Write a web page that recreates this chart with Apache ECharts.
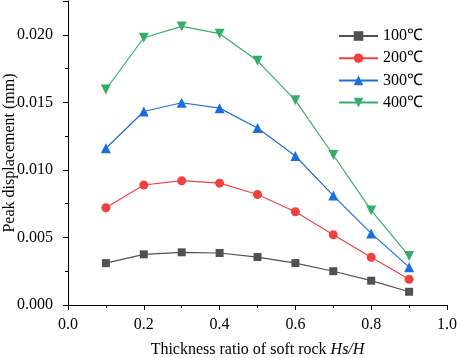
<!DOCTYPE html>
<html>
<head>
<meta charset="utf-8">
<script src="https://cdn.jsdelivr.net/npm/echarts@6/dist/echarts.min.js"></script>
<style>html,body{margin:0;padding:0;background:#fff}#c{width:457px;height:358px}</style>
</head>
<body>
<div id="c"></div>
<script>
const xValues = [0.1, 0.2, 0.3, 0.4, 0.5, 0.6, 0.7, 0.8, 0.9];
const seriesNames = ['100\u2103', '200\u2103', '300\u2103', '400\u2103'];
const s100 = [0.0031, 0.00375, 0.0039, 0.00385, 0.00355, 0.0031, 0.0025, 0.0018, 0.00098];
const s200 = [0.0072, 0.00888, 0.0092, 0.00902, 0.00818, 0.0069, 0.0052, 0.00353, 0.0019];
const s300 = [0.0116, 0.01432, 0.01497, 0.01457, 0.0131, 0.01103, 0.0081, 0.0053, 0.0028];
const s400 = [0.01595, 0.01978, 0.02062, 0.02008, 0.01807, 0.01515, 0.0111, 0.007, 0.00362];
const allSeries = [s100, s200, s300, s400];
const colors = ['#515151', '#F14040', '#1A6FDF', '#37AD6B'];
const symbols = ['rect', 'circle', 'triangle', 'path://M0,0 L10,0 L5,8.66 Z'];
const symbolSizes = [8, 9, 10, 10];

const font = 'Liberation Serif, Times New Roman, serif';
const chart = echarts.init(document.getElementById('c'));
chart.setOption({
  animation: false,
  textStyle: { fontFamily: font },
  grid: { left: 68, right: 10, top: 1, bottom: 53, containLabel: false, outerBoundsMode: 'none' },
  legend: {
    orient: 'vertical', left: 338, top: 28, padding: 0,
    itemWidth: 39, itemHeight: 12, itemGap: 6.2,
    textStyle: { fontFamily: font, fontSize: 16, color: '#000' },
    data: seriesNames
  },
  xAxis: {
    type: 'value', min: 0, max: 1, interval: 0.2,
    name: '{n|Thickness ratio of soft rock }{i|Hs/H}',
    nameLocation: 'middle', nameGap: 37, nameMoveOverlap: false,
    nameTextStyle: { rich: { n: { fontFamily: font, fontSize: 16, color: '#000' }, i: { fontFamily: font, fontSize: 16, fontStyle: 'italic', color: '#000' } } },
    axisLine: { lineStyle: { color: '#000', width: 1 } },
    axisTick: { inside: false, length: 5, lineStyle: { color: '#000' } },
    minorTick: { show: true, splitNumber: 2, length: 3, lineStyle: { color: '#000' } },
    splitLine: { show: false },
    axisLabel: { fontFamily: font, fontSize: 16, color: '#000', margin: 12, formatter: v => v.toFixed(1) }
  },
  yAxis: {
    type: 'value', min: 0, max: 0.0225, interval: 0.005,
    name: 'Peak displacement (mm)',
    nameLocation: 'middle', nameGap: 50, nameMoveOverlap: false,
    nameTextStyle: { fontFamily: font, fontSize: 16, color: '#000' },
    axisLine: { show: true, lineStyle: { color: '#000', width: 1 } },
    axisTick: { show: true, inside: false, length: 5, lineStyle: { color: '#000' } },
    minorTick: { show: true, splitNumber: 2, length: 3, lineStyle: { color: '#000' } },
    splitLine: { show: false },
    axisLabel: { fontFamily: font, fontSize: 16, color: '#000', margin: 15, formatter: v => v > 0.021 ? '' : v.toFixed(3) }
  },
  series: allSeries.map((d, i) => ({
    name: seriesNames[i],
    type: 'line',
    data: xValues.map((x, j) => [x, d[j]]),
    symbol: symbols[i],
    symbolSize: symbolSizes[i],
    showAllSymbol: true,
    lineStyle: { color: colors[i], width: 1.2 },
    itemStyle: { color: colors[i] },
    emphasis: { disabled: true }
  }))
});
</script>
</body>
</html>
